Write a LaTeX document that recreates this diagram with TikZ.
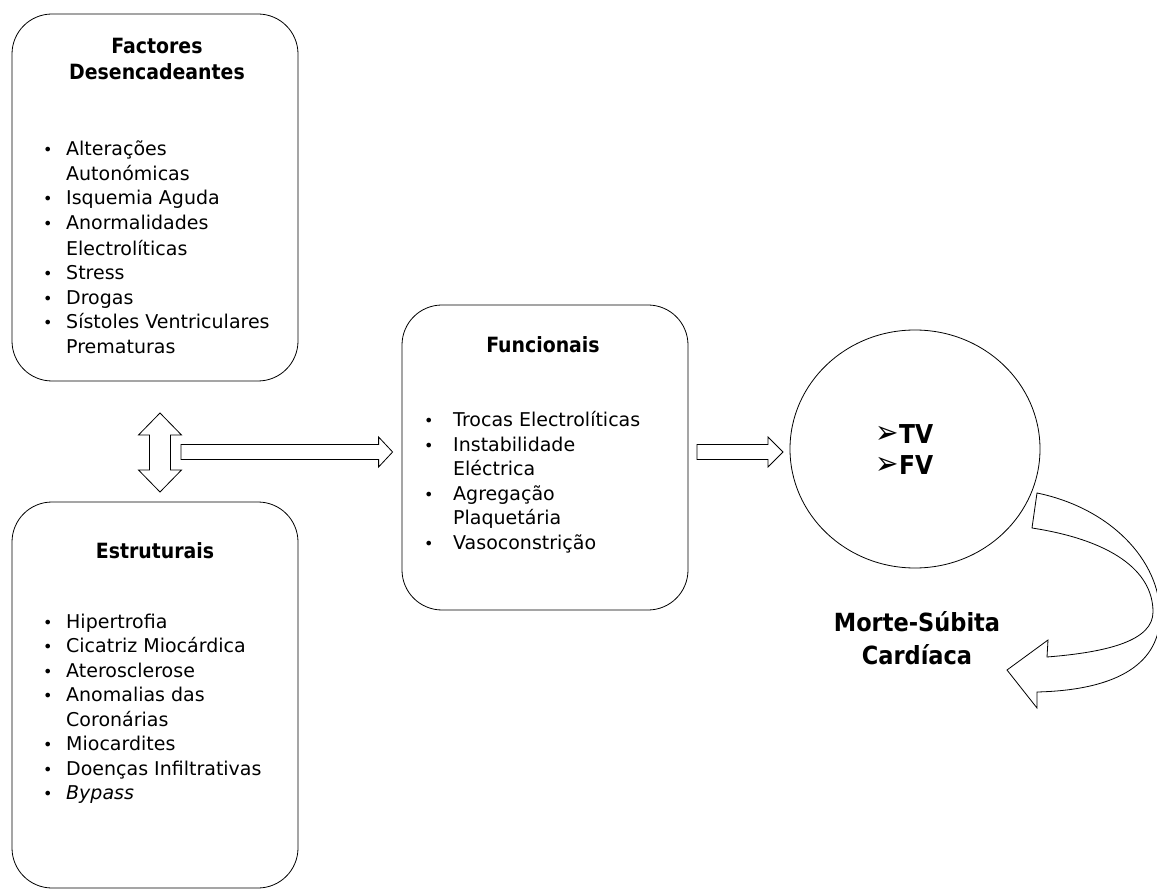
\documentclass[tikz,border=0pt]{standalone}
\usepackage{fontspec}
\setmainfont{DejaVu Sans}
\newfontfamily\condfont{DejaVu Sans Condensed}
\newfontfamily\symfont{DejaVu Sans}
\usetikzlibrary{calc,shapes.geometric}
\newcommand\bul{{\fontsize{16}{16}\selectfont •}}
\newcommand\itm[1]{\makebox[23pt][l]{\bul}\ignorespaces#1}
\newcommand\itmb[1]{\makebox[29pt][l]{\bul}\ignorespaces#1}
\newcommand\cnt[1]{\makebox[23pt][l]{}#1}
\newcommand\cntb[1]{\makebox[29pt][l]{}#1}
\newcommand\arr{\scalebox{1}[1.15]{\symfont\fontsize{28}{28}\selectfont\mdseries ➢}}
\tikzset{
  panel/.style={draw, line width=0.8pt, rounded corners=40pt, minimum width=286pt, inner sep=0pt},
  ttl/.style={font=\condfont\fontsize{21}{26}\selectfont\bfseries, align=center, anchor=base, inner sep=0pt},
  lst/.style={font=\fontsize{19}{24.5}\selectfont, anchor=base west, inner sep=0pt},
  blk/.style={draw, line width=0.8pt, fill=white, line join=miter},
  vt/.style={anchor=base west, inner sep=0pt, font=\condfont\fontsize{26}{32}\selectfont\bfseries},
}
\begin{document}
\begin{tikzpicture}[x=1pt,y=-1pt]
\useasboundingbox (0,0) rectangle (1157,890);
% panels
\node[panel, minimum height=367pt] (fac) at (155,197.5) {};
\node[panel, minimum height=386pt] (est) at (155,695) {};
\node[panel, minimum height=305pt] (fun) at (545,457.5) {};
\node[draw, line width=0.8pt, ellipse, minimum width=250pt, minimum height=238pt, inner sep=0pt] (circ) at (915,449) {};
% titles
\node[ttl] (facT) at (157,80) {Factores\\Desencadeantes};
\node[ttl] (estT) at (155,558) {Estruturais};
\node[ttl] (funT) at (543,353) {Funcionais};
% lists
\node[lst] (facL) at (43,156) {\begin{tabular}[t]{@{}l@{}}
\itm{Alterações}\\
\cnt{Autonómicas}\\
\itm{Isquemia Aguda}\\
\itm{Anormalidades}\\[1.5pt]
\cnt{Electrolíticas}\\
\itm{Stress}\\
\itm{Drogas}\\
\itm{Sístoles Ventriculares}\\
\cnt{Prematuras}
\end{tabular}};
\node[lst] (estL) at (43,628) {\begin{tabular}[t]{@{}l@{}}
\itm{Hipertrofia}\\
\itm{Cicatriz Miocárdica}\\
\itm{Aterosclerose}\\
\itm{Anomalias das}\\
\cnt{Coronárias}\\
\itm{Miocardites}\\
\itm{Doenças Infiltrativas}\\
\itm{\textit{Bypass}}
\end{tabular}};
\node[lst] (funL) at (424,427) {\begin{tabular}[t]{@{}l@{}}
\itmb{Trocas Electrolíticas}\\
\itmb{Instabilidade}\\
\cntb{Eléctrica}\\
\itmb{Agregação}\\
\cntb{Plaquetária}\\
\itmb{Vasoconstrição}
\end{tabular}};
% TV / FV
\node[vt] (tv) at (875,443) {\makebox[24pt][l]{\arr}TV};
\node[vt] (fv) at (875,475) {\makebox[24pt][l]{\arr}FV};
% Morte-Subita
\node[anchor=base, inner sep=0pt, align=center, font=\condfont\fontsize{25}{33}\selectfont\bfseries] (ms) at (917,664) {Morte-Súbita\\Cardíaca};
% double arrow between fac and est
\path (160,413) coordinate (da1) (160,492) coordinate (da2);
\draw[blk] (da1) -- ++(21.5,22) -- ++(-11,0) -- ($(da2)+(10.5,-22)$) -- ++(11,0) -- (da2) -- ++(-21.5,-22) -- ++(11,0) -- ($(da1)+(-10.5,22)$) -- ++(-11,0) -- cycle;
% arrow to fun
\coordinate (a1s) at (181,452);
\coordinate (a1e) at (fun.west |- a1s);
\draw[blk] ($(a1s)+(0,-7.5)$) -- ($(a1e)+(-23,-7.5)$) -- ++(0,-7.5) -- ($(a1e)+(-9,0)$) -- ($(a1e)+(-23,15)$) -- ++(0,-7.5) -- ($(a1s)+(0,7.5)$) -- cycle;
% arrow to circle
\coordinate (a2s) at (697,452);
\coordinate (a2e) at (783,452);
\draw[blk] ($(a2s)+(0,-7.5)$) -- ($(a2e)+(-15,-7.5)$) -- ++(0,-7.5) -- (a2e) -- ($(a2e)+(-15,15)$) -- ++(0,-7.5) -- ($(a2s)+(0,7.5)$) -- cycle;
% curved arrow
\draw[blk] (1037,493) .. controls (1110,508) and (1160,560) .. (1160,615)
  .. controls (1160,662) and (1120,690) .. (1037,692)
  -- (1037,708) -- (1007,670) -- (1048,640) -- (1047,657)
  .. controls (1110,652) and (1153,640) .. (1153,612)
  .. controls (1153,570) and (1110,540) .. (1032,528) -- cycle;
\end{tikzpicture}
\end{document}
